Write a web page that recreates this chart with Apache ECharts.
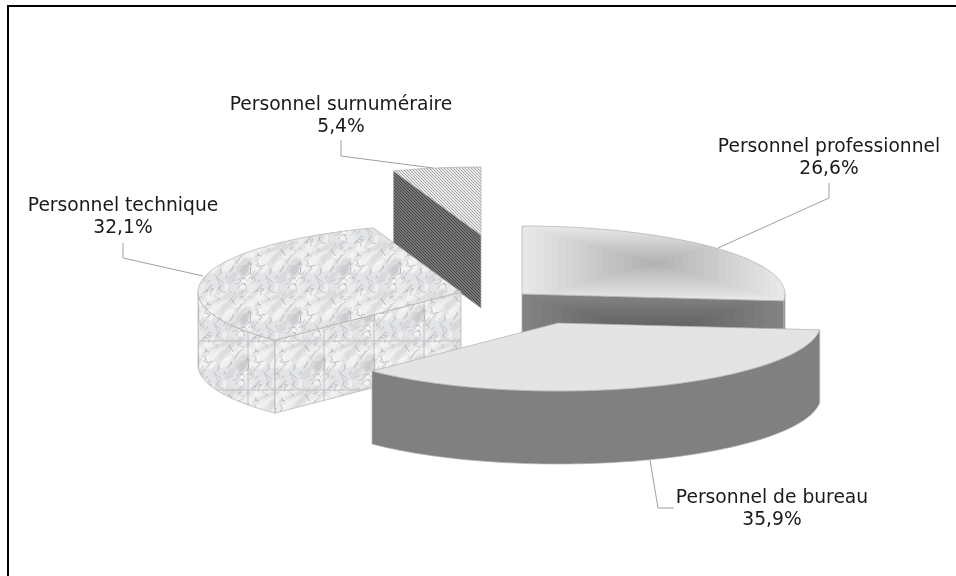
<!DOCTYPE html>
<html>
<head>
<meta charset="utf-8">
<style>html,body{margin:0;padding:0;background:#fff}#c{width:956px;height:576px}</style>
<script src="https://cdn.jsdelivr.net/npm/echarts@6/dist/echarts.min.js"></script>
</head>
<body>
<div id="c"></div>
<script>
// ---- data ----
const categories = ['Personnel professionnel', 'Personnel de bureau', 'Personnel technique', 'Personnel surnuméraire'];
const shares = [26.6, 35.9, 32.1, 5.4];

// ---- layout and style ----
const rx = 263, ry = 68, depth = 73;
const apex = [[522, 294], [558, 323], [461, 292], [481, 235]];
const stacking = [2, 4, 3, 1];
const labelTop = [[829, 136], [772, 487], [123, 195], [341, 94]];
const leaders = [
  [[829, 183], [829, 198], [718, 248]],
  [[650, 460], [658, 508], [674, 508]],
  [[123, 243], [123, 258], [203, 276]],
  [[341, 140], [341, 156], [433, 168]]
];
const edgeColor = '#b0b0b0';
const W = 956, H = 576;

function canvas(w, h) { const c = document.createElement('canvas'); c.width = w; c.height = h; return c; }

function marbleTile(w, h) {
  const c = canvas(w, h), g = c.getContext('2d');
  g.fillStyle = '#e3e4e5'; g.fillRect(0, 0, w, h);
  let s = 987;
  const r = () => (s = (s * 1103515245 + 12345) & 0x7fffffff) / 0x7fffffff;
  const wrap = fn => { for (const dx of [-w, 0, w]) for (const dy of [-h, 0, h]) fn(dx, dy); };
  for (let i = 0; i < 34; i++) {
    const x = r() * w, y = r() * h, rad = 2 + r() * 5, a = 0.1 + r() * 0.12, light = r() > 0.45;
    wrap((dx, dy) => {
      g.fillStyle = light ? `rgba(255,255,255,${a * 2.5})` : `rgba(165,167,170,${a})`;
      g.beginPath(); g.ellipse(x + dx, y + dy, rad * 1.6, rad * 0.7, -0.8, 0, 7); g.fill();
    });
  }
  for (let i = 0; i < 46; i++) {
    let x = r() * w, y = r() * h;
    const pts = [[x, y]];
    const dir = r() > 0.35 ? -0.85 : 0.8, n = 1 + Math.floor(r() * 3);
    for (let k = 0; k < n; k++) {
      x += Math.cos(dir + (r() - 0.5) * 2) * 3.5; y += Math.sin(dir + (r() - 0.5) * 2) * 3.5;
      pts.push([x, y]);
    }
    const a = 0.25 + r() * 0.35;
    wrap((dx, dy) => {
      g.strokeStyle = `rgba(140,142,148,${a})`; g.lineWidth = 0.8;
      g.beginPath(); pts.forEach((p, j) => j ? g.lineTo(p[0] + dx, p[1] + dy) : g.moveTo(p[0] + dx, p[1] + dy)); g.stroke();
    });
  }
  // soften, keeping the tile seamless
  const soft = canvas(w, h), q = soft.getContext('2d');
  q.filter = 'blur(0.6px)';
  for (const dx of [-w, 0, w]) for (const dy of [-h, 0, h]) q.drawImage(c, dx, dy);
  return soft;
}

function marbleWall(tile, x0) {
  const c = canvas(W, H), g = c.getContext('2d');
  const xs = [], ys = [];
  for (let x = x0; x < W; x += 50) xs.push(x);
  for (let y = 47; y < H; y += 49) ys.push(y);
  for (const x of xs) for (const y of ys) g.drawImage(tile, x, y, 50, 49);
  g.strokeStyle = '#b4b5b8'; g.lineWidth = 0.8;
  for (const x of xs) { g.beginPath(); g.moveTo(x, 0); g.lineTo(x, H); g.stroke(); }
  for (const y of ys) { g.beginPath(); g.moveTo(0, y); g.lineTo(W, y); g.stroke(); }
  return c;
}

function rectGradient(cx, cy, hw, hh, outer, inner, steps) {
  const c = canvas(W, H), g = c.getContext('2d');
  for (let i = 0; i < steps; i++) {
    const t = i / (steps - 1), k = 1 - i / steps;
    const v = Math.round(outer + (inner - outer) * t);
    g.fillStyle = `rgb(${v},${v},${v})`;
    g.fillRect(cx - hw * k, cy - hh * k, 2 * hw * k, 2 * hh * k);
    g.strokeStyle = `rgb(${v + 4},${v + 4},${v + 4})`; g.lineWidth = 0.6;
    g.strokeRect(cx - hw * k, cy - hh * k, 2 * hw * k, 2 * hh * k);
  }
  return c;
}

function hatch(a, b) {
  const c = canvas(3, 3), g = c.getContext('2d');
  g.fillStyle = a; g.fillRect(0, 0, 3, 3);
  g.fillStyle = b;
  for (let i = 0; i < 3; i++) g.fillRect(i, i, 1, 1);
  return c;
}

const tile = marbleTile(50, 49);
const topFill = [
  { image: rectGradient(653, 263, 132, 38, 232, 178, 18), repeat: 'no-repeat' },
  '#e4e4e4',
  { image: tile, repeat: 'repeat' },
  { image: hatch('#ebebeb', '#a4a4a4'), repeat: 'repeat' }
];
const darkBands = { image: rectGradient(653, 334, 132, 40, 130, 92, 13), repeat: 'no-repeat' };
const planeFill = [
  darkBands,
  '#808080',
  { image: marbleWall(tile, 24), repeat: 'no-repeat' },
  { image: hatch('#767676', '#484848'), repeat: 'repeat' }
];
const curveFill = [
  darkBands,
  '#808080',
  { image: marbleWall(tile, 198), repeat: 'no-repeat' },
  planeFill[3]
];

const rad = d => d * Math.PI / 180;
const total = shares.reduce((a, b) => a + b, 0);
const startDeg = shares.map((_, i) => shares.slice(0, i).reduce((a, b) => a + b, 0) / total * 360);

function rim(c, a) { return [c[0] + rx * Math.sin(rad(a)), c[1] - ry * Math.cos(rad(a))]; }
function arc(c, a0, a1) {
  const n = Math.max(2, Math.ceil(Math.abs(a1 - a0) / 1.5)), pts = [];
  for (let i = 0; i <= n; i++) pts.push(rim(c, a0 + (a1 - a0) * i / n));
  return pts;
}
const down = p => [p[0], p[1] + depth];
const poly = (points, fill, z2) => ({
  type: 'polygon', z2, shape: { points },
  style: { fill, stroke: edgeColor, lineWidth: 0.7 }
});

function renderItem(params, api) {
  const i = params.dataIndex, value = api.value(0);
  const a0 = startDeg[i], a1 = a0 + value / total * 360, c = apex[i];
  const z = stacking[i] * 10, kids = [];
  const w0 = Math.max(a0, 90), w1 = Math.min(a1, 270);
  if (w1 > w0) {
    const top = arc(c, w0, w1);
    kids.push(poly(top.concat(top.map(down).reverse()), curveFill[i], z));
  }
  if (Math.sin(rad(a0)) < -1e-6) {
    const p = rim(c, a0);
    kids.push(poly([c, p, down(p), down(c)], planeFill[i], z));
  }
  if (Math.sin(rad(a1)) > 1e-6) {
    const p = rim(c, a1);
    kids.push(poly([c, p, down(p), down(c)], planeFill[i], z));
  }
  kids.push(poly([c].concat(arc(c, a0, a1)), topFill[i], z + 1));
  kids.push({
    type: 'polyline', z2: 60, shape: { points: leaders[i] },
    style: { fill: null, stroke: '#a0a0a0', lineWidth: 1 }
  });
  kids.push({
    type: 'text', z2: 61, x: labelTop[i][0], y: labelTop[i][1],
    style: {
      text: categories[i] + '\n' + value.toFixed(1).replace('.', ',') + '%',
      fill: '#1a1a1a', font: '18.7px "DejaVu Sans"', lineHeight: 22,
      textAlign: 'center', textVerticalAlign: 'top'
    }
  });
  return { type: 'group', children: kids };
}

const chart = echarts.init(document.getElementById('c'), null, { renderer: 'canvas' });
chart.setOption({
  animation: false,
  backgroundColor: '#ffffff',
  graphic: [
    { type: 'rect', shape: { x: 7, y: 5, width: 949, height: 2 }, style: { fill: '#000' } },
    { type: 'rect', shape: { x: 7, y: 5, width: 2, height: 571 }, style: { fill: '#000' } }
  ],
  series: [{
    type: 'custom', coordinateSystem: 'none', silent: true,
    renderItem,
    data: shares.map(v => [v]),
    clip: false
  }]
});
</script>
</body>
</html>
